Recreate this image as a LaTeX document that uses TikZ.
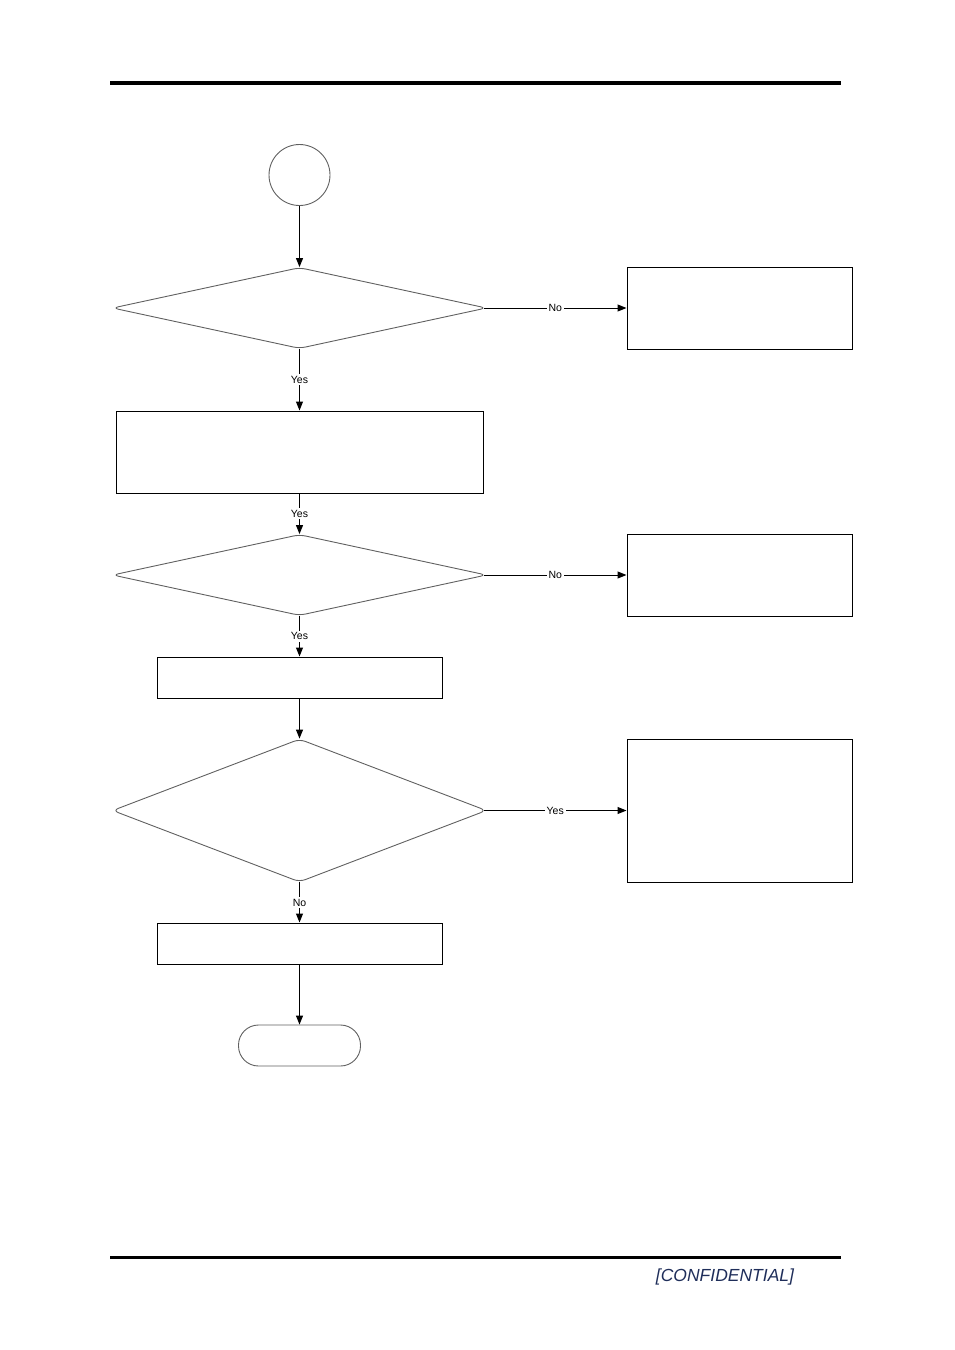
\documentclass[tikz,border=0pt]{standalone}
\usepackage{fontspec}
\setmainfont{Liberation Sans}
\usetikzlibrary{shapes.geometric,arrows.meta}
\definecolor{navy}{HTML}{1F2E5A}
\definecolor{outl}{HTML}{606060}
\tikzset{
  procbox/.style={draw=black, line width=1pt, minimum width=#1, inner sep=0pt},
  dec/.style={shape=diamond, draw=outl, line width=0.9pt, rounded corners=6pt, minimum width=374pt, minimum height=#1, inner sep=0pt},
  conn/.style={draw=outl, line width=0.9pt, circle, minimum size=61pt, inner sep=0pt},
  term/.style={draw=outl, line width=0.9pt, rounded corners=20pt, minimum width=122pt, minimum height=41pt, inner sep=0pt},
  flow/.style={draw=black, line width=1pt, -{Triangle[length=9pt,width=7pt]}},
  lbl/.style={fill=white, inner sep=2pt, font=\fontsize{10.5}{12}\selectfont},
  rulebar/.style={line width=#1, draw=black}
}
\begin{document}
\begin{tikzpicture}[x=1pt,y=-1pt]
\useasboundingbox (0,0) rectangle (954,1350);
\draw[rulebar=4pt] (110,83) -- (841,83);
\draw[rulebar=3pt] (110,1257) -- (841,1257);
\node[font=\itshape\fontsize{17.5}{20}\selectfont, text=navy] (conf) at (725,1277) {[CONFIDENTIAL]};

\node[conn] (start) at (299.5,175) {};
\node[dec=81pt] (d1) at (299.5,308) {};
\node[procbox=225pt, minimum height=82pt] (r1) at (739.5,308) {};
\node[procbox=367pt, minimum height=82pt] (b2) at (299.5,452) {};
\node[dec=81pt] (d2) at (299.5,575) {};
\node[procbox=225pt, minimum height=82pt] (r2) at (739.5,575) {};
\node[procbox=285pt, minimum height=41pt] (b3) at (299.5,677.5) {};
\node[dec=143pt] (d3) at (299.5,810.5) {};
\node[procbox=225pt, minimum height=143pt] (r3) at (739.5,810.5) {};
\node[procbox=285pt, minimum height=41pt] (b4) at (299.5,943.5) {};
\node[term] (end) at (299.5,1045.5) {};

\draw[flow] (start.south) -- (d1.north);
\draw[flow] ([xshift=-3pt]d1.east) -- node[lbl]{No} (r1.west);
\draw[flow] (d1.south) -- node[lbl]{Yes} (b2.north);
\draw[flow] (b2.south) -- node[lbl]{Yes} (d2.north);
\draw[flow] ([xshift=-3pt]d2.east) -- node[lbl]{No} (r2.west);
\draw[flow] (d2.south) -- node[lbl]{Yes} (b3.north);
\draw[flow] (b3.south) -- (d3.north);
\draw[flow] ([xshift=-3pt]d3.east) -- node[lbl]{Yes} (r3.west);
\draw[flow] (d3.south) -- node[lbl]{No} (b4.north);
\draw[flow] (b4.south) -- (end.north);
\end{tikzpicture}
\end{document}
